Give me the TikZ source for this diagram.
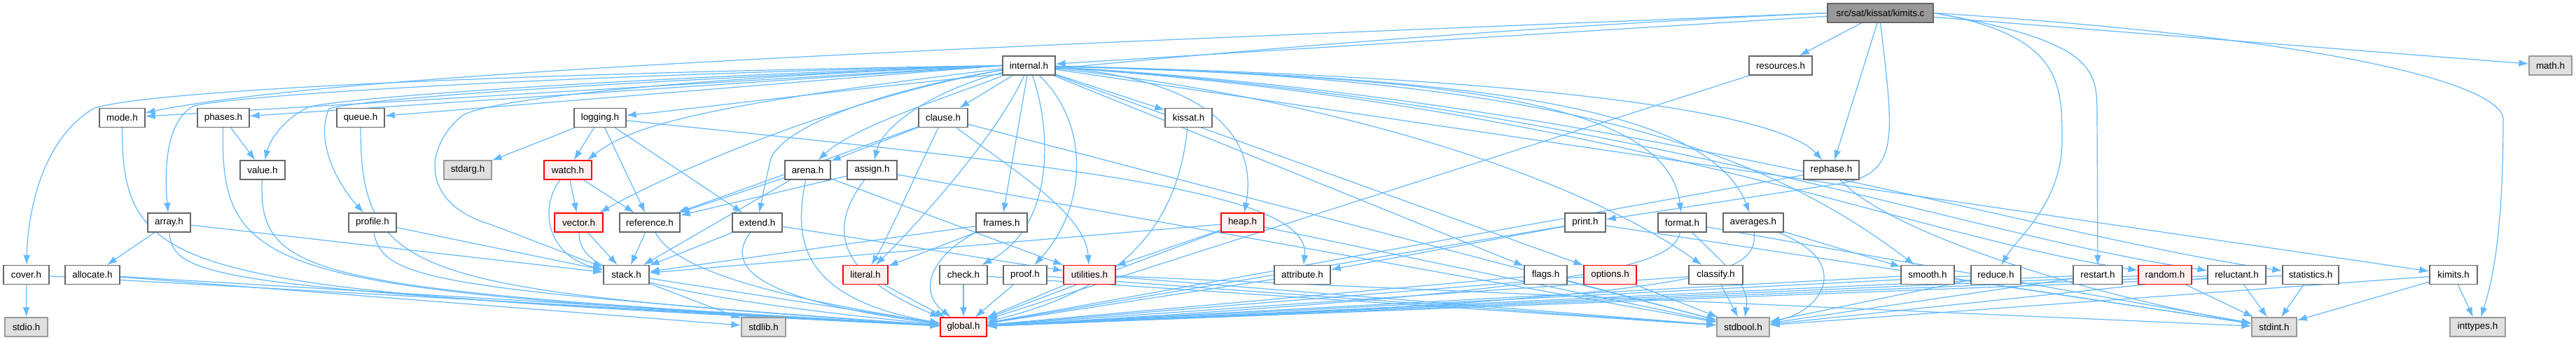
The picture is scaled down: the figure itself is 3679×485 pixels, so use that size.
\documentclass[tikz,border=0pt]{standalone}
\usepackage{fontspec}
\setmainfont{Liberation Sans}
\usetikzlibrary{arrows.meta}
\definecolor{edgec}{HTML}{63B8FF}
\definecolor{nodeb}{HTML}{666666}
\definecolor{redb}{HTML}{FF0000}
\definecolor{redf}{HTML}{FFF0F0}
\definecolor{sysf}{HTML}{E0E0E0}
\definecolor{sysb}{HTML}{999999}
\definecolor{rootf}{HTML}{999999}
\pgfdeclarelayer{bg}
\pgfsetlayers{bg,main}
\newcommand{\mknode}[5]{\node[#1,minimum width={#4*0.5pt}] (#2) at (#3) {#5};}
\newcommand{\dropto}[4]{\draw[dep] (#1) .. controls (#2,#3) and ({#2+80},{#3-12}) .. (#4);}
\begin{document}
\begin{tikzpicture}[x=0.5pt,y=0.5pt,
  box/.style={draw=nodeb, fill=white, line width=0.65pt, minimum height=13.5pt, inner sep=0pt, font=\fontsize{6.7}{8}\selectfont, text=black},
  redbox/.style={box, draw=redb, fill=redf},
  sysbox/.style={box, draw=sysb, fill=sysf},
  rootbox/.style={box, draw=nodeb, fill=rootf},
  dep/.style={draw=edgec, line width=0.6pt, -{Latex[length=7pt,width=5pt]}}]
\useasboundingbox (0,0) rectangle (3679,485);
% row 0/1
\mknode{rootbox}{kimitsc}{2685.5,466.5}{151}{src/sat/kissat/kimits.c}
\mknode{box}{internal}{1469.5,391.5}{75}{internal.h}
\mknode{box}{resources}{2543,391.5}{90}{resources.h}
\mknode{sysbox}{math}{3642.5,391.5}{61}{math.h}
% row 2
\mknode{box}{mode}{174.5,317}{65}{mode.h}
\mknode{box}{phases}{319,317}{74}{phases.h}
\mknode{box}{queue}{515,317}{68}{queue.h}
\mknode{box}{logging}{857,317}{74}{logging.h}
\mknode{box}{clause}{1347,317}{70}{clause.h}
\mknode{box}{kissat}{1697.5,317}{67}{kissat.h}
% row 3
\mknode{box}{value}{375,242.5}{64}{value.h}
\mknode{sysbox}{stdarg}{668,242.5}{68}{stdarg.h}
\mknode{redbox}{watch}{811,242.5}{68}{watch.h}
\mknode{box}{arena}{1153.5,242.5}{65}{arena.h}
\mknode{box}{assign}{1245.5,242.5}{71}{assign.h}
\mknode{box}{rephase}{2615.5,242.5}{79}{rephase.h}
% row 4
\mknode{box}{array}{241.5,167.5}{61}{array.h}
\mknode{box}{profile}{532,167.5}{68}{profile.h}
\mknode{redbox}{vector}{826.5,167.5}{69}{vector.h}
\mknode{box}{reference}{928,167.5}{86}{reference.h}
\mknode{box}{extend}{1081.5,167.5}{71}{extend.h}
\mknode{box}{frames}{1430.5,167.5}{73}{frames.h}
\mknode{redbox}{heap}{1774.5,167.5}{61}{heap.h}
\mknode{box}{print}{2264,167.5}{58}{print.h}
\mknode{box}{format}{2402.5,167.5}{69}{format.h}
\mknode{box}{averages}{2504,167.5}{86}{averages.h}
% row 5
\mknode{box}{cover}{37.5,93}{65}{cover.h}
\mknode{box}{allocate}{132,93}{78}{allocate.h}
\mknode{box}{stack}{894.5,93}{65}{stack.h}
\mknode{redbox}{literal}{1236,93}{64}{literal.h}
\mknode{box}{check}{1376,93}{68}{check.h}
\mknode{box}{proof}{1464,93}{62}{proof.h}
\mknode{redbox}{utilities}{1556,93}{74}{utilities.h}
\mknode{box}{attribute}{1860,93}{80}{attribute.h}
\mknode{box}{flags}{2207.5,93}{61}{flags.h}
\mknode{redbox}{options}{2299.5,93}{75}{options.h}
\mknode{box}{classify}{2450.5,93}{77}{classify.h}
\mknode{box}{smooth}{2753,93}{76}{smooth.h}
\mknode{box}{reduce}{2850.5,93}{71}{reduce.h}
\mknode{box}{restart}{2996,93}{70}{restart.h}
\mknode{redbox}{random}{3092,93}{76}{random.h}
\mknode{box}{reluctant}{3194.5,93}{83}{reluctant.h}
\mknode{box}{statistics}{3300,93}{80}{statistics.h}
\mknode{box}{kimitsh}{3504,93}{68}{kimits.h}
% row 6
\mknode{sysbox}{stdio}{37.5,18.5}{61}{stdio.h}
\mknode{sysbox}{stdlib}{1090.5,18.5}{63}{stdlib.h}
\mknode{redbox}{global}{1376,18.5}{66}{global.h}
\mknode{sysbox}{stdbool}{2489.5,18.5}{75}{stdbool.h}
\mknode{sysbox}{stdint}{3248,18.5}{64}{stdint.h}
\mknode{sysbox}{inttypes}{3538.5,18.5}{79}{inttypes.h}

\begin{pgfonlayer}{bg}
% kimits.c
\draw[dep] (kimitsc) -- (internal);
\draw[dep] (kimitsc) -- (resources);
\draw[dep] (kimitsc) -- (math);
\draw[dep] (kimitsc) -- (rephase);
\draw[dep] (kimitsc.west) .. controls (1500,422) and (500,385) .. (mode);
\draw[dep] (kimitsc.west) .. controls (1700,425) and (1050,335) .. (logging);
\draw[dep] (kimitsc.south) .. controls (2705,285) and (2715,235) .. (2620,222) -- (print);
\draw[dep] (kimitsc.east) .. controls (2945,435) and (2945,365) .. (2945,285) .. controls (2945,195) and (2880,145) .. (reduce);
\draw[dep] (kimitsc.east) .. controls (2995,425) and (2995,385) .. (2995,320) -- (restart);
\draw[dep] (kimitsc.east) .. controls (3400,425) and (3575,355) .. (3575,315) .. controls (3575,155) and (3560,85) .. (inttypes);
% internal.h
\draw[dep] (internal.west) -- (mode);
\draw[dep] (internal.west) -- (phases);
\draw[dep] (internal.west) -- (queue);
\draw[dep] (internal.west) .. controls (700,380) and (200,355) .. (133,330) .. controls (60,285) and (40,185) .. (cover);
\draw[dep] (internal.west) .. controls (700,375) and (300,345) .. (275,333) .. controls (235,310) and (235,235) .. (array);
\draw[dep] (internal.west) .. controls (900,375) and (480,345) .. (440,332) .. controls (405,315) and (385,285) .. (value);
\draw[dep] (internal.west) .. controls (900,370) and (520,345) .. (470,330) .. controls (450,285) and (480,225) .. (profile);
\draw[dep] (internal.west) .. controls (1000,375) and (700,345) .. (660,320) .. controls (605,275) and (600,195) .. (700,165) .. controls (780,135) and (830,115) .. (stack);
\draw[dep] (internal) .. controls (1000,335) and (900,305) .. ([xshift=14pt]watch.north);
\draw[dep] (internal) .. controls (1200,345) and (950,235) .. ([xshift=15pt]vector.north);
\draw[dep] (internal) -- (clause);
\draw[dep] (internal) -- (kissat);
\draw[dep] (internal) .. controls (1350,345) and (1220,305) .. (arena);
\draw[dep] (internal) .. controls (1330,355) and (1260,305) .. (assign);
\draw[dep] (internal) .. controls (1250,355) and (1110,300) .. (1100,255) .. controls (1092,220) and (1088,200) .. (extend);
\draw[dep] (internal) -- (frames);
\draw[dep] (internal) .. controls (1420,285) and (1300,155) .. (literal);
\draw[dep] (internal) .. controls (1500,305) and (1510,165) .. (check);
\draw[dep] (internal) .. controls (1560,305) and (1550,185) .. (proof);
\draw[dep] (internal) .. controls (1700,375) and (1800,305) .. (heap);
\draw[dep] (internal) .. controls (2000,375) and (2380,355) .. (format);
\draw[dep] (internal) .. controls (2100,375) and (2440,335) .. (averages);
\draw[dep] (internal) .. controls (2200,375) and (2540,325) .. (rephase);
\draw[dep] (internal) .. controls (2200,375) and (2500,285) .. (smooth);
\draw[dep] (internal) .. controls (1900,345) and (2250,235) .. (classify);
\draw[dep] (internal) -- (options);
\draw[dep] (internal) -- (flags);
\draw[dep] (internal) .. controls (2300,335) and (2700,155) .. (random);
\draw[dep] (internal) .. controls (2300,340) and (2800,150) .. (reluctant);
\draw[dep] (internal) .. controls (2300,345) and (2900,150) .. (statistics);
\draw[dep] (internal) -- (kimitsh);
% logging.h
\draw[dep] (logging) -- (stdarg);
\draw[dep] (logging) -- (watch);
\draw[dep] (logging) -- (reference);
\draw[dep] (logging) -- (extend);
\draw[dep] (logging) .. controls (1500,250) and (1875,215) .. (attribute);
% left part
\draw[dep] (phases) -- (value);
\dropto{mode}{174.5}{85}{global}
\dropto{phases}{313}{85}{global}
\dropto{value}{368}{85}{global}
\dropto{queue}{515}{85}{global}
\dropto{profile}{545}{85}{global}
\dropto{array}{245}{85}{global}
\draw[dep] (array) -- (allocate);
\draw[dep] (array) -- (stack);
\draw[dep] (allocate) -- (global);
\draw[dep] (allocate) -- (stdlib);
\draw[dep] (cover) -- (stdio);
\draw[dep] (cover) -- (global);
\draw[dep] (profile) -- (stack);
% watch, vector, reference, stack
\draw[dep] (watch) -- (vector);
\draw[dep] (watch) -- (reference);
\draw[dep] (watch) .. controls (770,190) and (780,120) .. (stack);
\draw[dep] (vector) -- (stack);
\draw[dep] (vector) .. controls (828,110) and (860,70) .. (global);
\draw[dep] (reference) -- (stack);
\draw[dep] (reference) .. controls (960,110) and (1050,70) .. (global);
\draw[dep] (stack) -- (global);
\draw[dep] (stack) -- (stdlib);
% clause, arena, assign, extend
\draw[dep] (clause) -- (arena);
\draw[dep] (clause) -- (reference);
\draw[dep] (clause) .. controls (1300,220) and (1270,150) .. (literal);
\draw[dep] (clause) .. controls (1450,240) and (1550,180) .. (utilities);
\draw[dep] (clause) -- (stdbool);
\draw[dep] (arena) -- (reference);
\draw[dep] (arena) -- (stack);
\draw[dep] (arena) -- (utilities);
\draw[dep] (arena) .. controls (1135,150) and (1135,60) .. (global);
\draw[dep] (assign) -- (reference);
\draw[dep] (assign) -- (stdbool);
\draw[dep] (assign) .. controls (1190,170) and (1180,100) .. (global);
\draw[dep] (extend) -- (stack);
\draw[dep] (extend) -- (utilities);
\draw[dep] (extend) .. controls (1040,110) and (1060,60) .. (global);
% frames, heap, kissat
\draw[dep] (frames) -- (literal);
\draw[dep] (frames) -- (stack);
\draw[dep] (frames.south west) .. controls (1330,120) and (1310,70) .. (global);
\draw[dep] (heap) -- (stack);
\draw[dep] (heap) -- (utilities);
\draw[dep] (heap) -- (global);
\draw[dep] (heap) -- (stdbool);
\draw[dep] (kissat) .. controls (1685,200) and (1640,80) .. (global);
% row 5 left
\draw[dep] (literal) -- (global);
\draw[dep] (check) -- (global);
\draw[dep] (check) -- (stdbool);
\draw[dep] (proof) -- (global);
\draw[dep] (proof) -- (stdbool);
\draw[dep] (utilities) -- (global);
\draw[dep] (utilities) -- (stdbool);
\draw[dep] (utilities) -- (stdint);
\draw[dep] (attribute) -- (global);
% print, format, averages, rephase, resources
\draw[dep] (print) -- (attribute);
\draw[dep] (print) -- (global);
\draw[dep] (print) -- (stdint);
\draw[dep] (format) .. controls (2460,110) and (2500,80) .. (stdbool);
\draw[dep] (format) .. controls (2390,110) and (2300,70) .. (global);
\draw[dep] (format) -- (stdint);
\draw[dep] (averages) -- (smooth);
\draw[dep] (averages) .. controls (2650,110) and (2600,40) .. (stdbool);
\draw[dep] (averages) .. controls (2510,90) and (2450,60) .. (global);
\draw[dep] (rephase) -- (global);
\draw[dep] (rephase) .. controls (2700,150) and (3000,60) .. (stdint);
\draw[dep] (resources) -- (global);
% row 5 right
\draw[dep] (flags) -- (stdbool);
\draw[dep] (flags) -- (global);
\draw[dep] (options) -- (stdbool);
\draw[dep] (options) -- (global);
\draw[dep] (classify) -- (stdbool);
\draw[dep] (classify) -- (global);
\draw[dep] (smooth) -- (global);
\draw[dep] (smooth) -- (stdint);
\draw[dep] (reduce) -- (stdbool);
\draw[dep] (reduce) -- (global);
\draw[dep] (restart) -- (stdbool);
\draw[dep] (restart) -- (global);
\draw[dep] (random) -- (stdint);
\draw[dep] (random) -- (global);
\draw[dep] (reluctant) -- (stdint);
\draw[dep] (reluctant) -- (stdbool);
\draw[dep] (reluctant) -- (global);
\draw[dep] (statistics) -- (stdint);
\draw[dep] (statistics) -- (global);
\draw[dep] (kimitsh) -- (inttypes);
\draw[dep] (kimitsh) -- (stdint);
\draw[dep] (kimitsh) -- (stdbool);
\end{pgfonlayer}
\end{tikzpicture}
\end{document}
